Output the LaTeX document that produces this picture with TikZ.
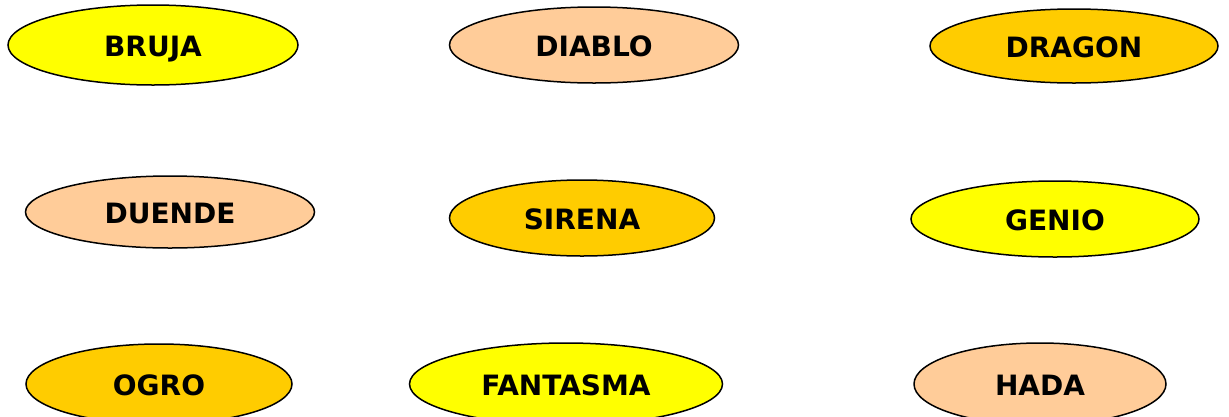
\documentclass[tikz,border=0pt]{standalone}
\usepackage{fontspec}
\setmainfont{DejaVu Sans}
\usetikzlibrary{shapes.geometric}
\definecolor{cyel}{HTML}{FFFF00}
\definecolor{cpea}{HTML}{FFCC99}
\definecolor{cora}{HTML}{FFCC00}
\newcommand{\lowtxt}[1]{\raisebox{-1.5pt}[\height][0pt]{#1}}
\tikzset{
  oval/.style={ellipse, draw=black, line width=1.5pt, inner sep=0pt,
    font=\fontsize{28}{32}\selectfont\bfseries},
}
\begin{document}
\begin{tikzpicture}[x=1pt,y=-1pt]
\useasboundingbox (0,0) rectangle (1229,416);
\clip (0,0) rectangle (1229,416);
\node[oval, fill=cyel, minimum width=290pt, minimum height=80pt] (bruja) at (153,45) {\lowtxt{BRUJA}};
\node[oval, fill=cpea, minimum width=289pt, minimum height=76pt] (diablo) at (594,45) {\lowtxt{DIABLO}};
\node[oval, fill=cora, minimum width=288pt, minimum height=74pt] (dragon) at (1074,46) {\lowtxt{DRAGON}};
\node[oval, fill=cpea, minimum width=289pt, minimum height=72pt] (duende) at (170,212) {\lowtxt{DUENDE}};
\node[oval, fill=cora, minimum width=265pt, minimum height=76pt] (sirena) at (582,218) {\lowtxt{SIRENA}};
\node[oval, fill=cyel, minimum width=288pt, minimum height=76pt] (genio) at (1055,219) {\lowtxt{GENIO}};
\node[oval, fill=cora, minimum width=266pt, minimum height=80pt] (ogro) at (159,384) {\lowtxt{OGRO}};
\node[oval, fill=cyel, minimum width=313pt, minimum height=82pt] (fantasma) at (566,384) {\lowtxt{FANTASMA}};
\node[oval, fill=cpea, minimum width=252pt, minimum height=82pt] (hada) at (1040,384) {\lowtxt{HADA}};
\end{tikzpicture}
\end{document}
